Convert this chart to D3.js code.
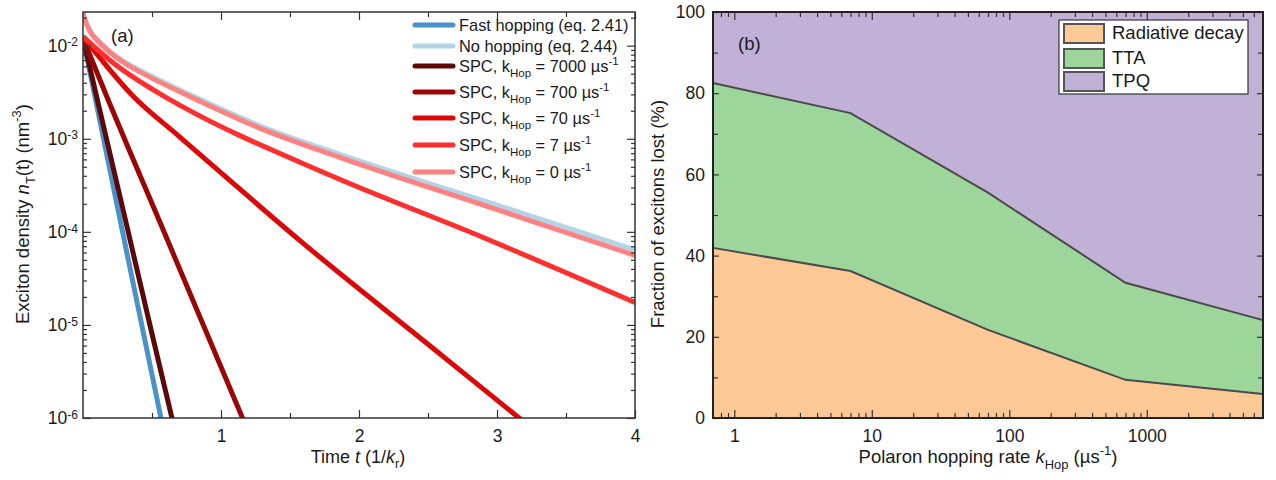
<!DOCTYPE html>
<html>
<head>
<meta charset="utf-8">
<script src="https://cdn.jsdelivr.net/npm/d3@7"></script>
<style>
  body { margin: 0; background: #fff; }
  svg { font-family: "Liberation Sans", Arial, sans-serif; }
  text { white-space: pre; fill: #1a1a1a; }
</style>
</head>
<body>
<div id="chart"></div>
<script>
// Panel (a): exciton density n_T(t) vs time
var tFast = [0, 0.3, 0.6];
var nFast = [1.2e-2, 8.0e-5, 5.6e-7];
var tNoHop = [0, 0.015, 0.05, 0.123, 0.22, 0.34, 0.46, 0.77, 1.28, 1.86, 2.95, 4];
var nNoHop = [2.24e-2, 1.9e-2, 1.46e-2, 1.09e-2, 8.1e-3, 6.2e-3, 5.0e-3, 3.0e-3, 1.38e-3, 6.8e-4, 2.05e-4, 6.4e-5];
var t7000 = [0, 0.3, 0.5, 0.7];
var n7000 = [1.2e-2, 1.5e-4, 8.0e-6, 4.5e-7];
var t700 = [0, 0.17, 0.6, 1.2];
var n700 = [1.2e-2, 2.9e-3, 9.0e-5, 7.0e-7];
var t70 = [0, 0.36, 0.7, 1.07, 1.57, 2.5, 3.16, 3.3];
var n70 = [1.25e-2, 2.9e-3, 1.05e-3, 3.5e-4, 8.1e-5, 6.2e-6, 1.0e-6, 6.8e-7];
var t7 = [0, 0.22, 0.58, 0.7, 1.8, 2.9, 4];
var n7 = [1.25e-2, 6.5e-3, 2.9e-3, 2.3e-3, 4.0e-4, 8.7e-5, 1.74e-5];
var t0 = [0, 0.015, 0.05, 0.123, 0.22, 0.34, 0.46, 0.77, 1.28, 1.86, 2.95, 4];
var n0 = [2.24e-2, 1.88e-2, 1.43e-2, 1.06e-2, 7.9e-3, 6.0e-3, 4.8e-3, 2.86e-3, 1.30e-3, 6.3e-4, 1.83e-4, 5.6e-5];

var spcRates = ["7000", "700", "70", "7", "0"];
var timeTicks = [1, 2, 3, 4];
var timeMinorTicks = [0.5, 1.5, 2.5, 3.5];
var densityTicks = [1e-2, 1e-3, 1e-4, 1e-5, 1e-6];

// Panel (b): fraction of excitons lost (%) vs hopping rate
var hopRates = [0.7, 7, 70, 700, 7000];
var radiative = [41.9, 36.2, 21.7, 9.4, 5.9];
var tta = [40.6, 38.9, 33.8, 23.9, 18.2];
var tpq = [17.5, 24.9, 44.5, 66.7, 75.9];
var lossNames = ["Radiative decay", "TTA", "TPQ"];
var rateTicks = [1, 10, 100, 1000];
var fractionTicks = [0, 20, 40, 60, 80, 100];
var fractionMinorTicks = [10, 30, 50, 70, 90];

var svg = d3.select("#chart")
  .append("svg")
  .attr("width", 1276)
  .attr("height", 480);

// writes text made of plain / italic / sub / sup pieces
function addParts(text, parts, size) {
  var shift = 0;
  parts.forEach(function (p) {
    var target = p.sub ? 0.3 * size : p.sup ? -0.42 * size : 0;
    text.append("tspan")
      .attr("dy", target - shift)
      .attr("font-size", (p.sub || p.sup) ? size * 0.7 : size)
      .attr("font-style", p.i ? "italic" : null)
      .text(p.t);
    shift = target;
  });
}

function styleAxis(g) {
  g.select(".domain").remove();
  g.selectAll(".tick line").attr("stroke", "#333").attr("stroke-width", 1.2);
  g.selectAll(".tick text").attr("font-size", 17.5).attr("fill", "#1a1a1a");
}

// ---------------- panel (a) ----------------
var ax = { left: 83, right: 635, top: 12, bottom: 418 };

var x1 = d3.scaleLinear().domain([0, 4]).range([ax.left, ax.right]);
var y1 = d3.scaleLog().domain([1e-6, 2.3e-2]).range([ax.bottom, ax.top]);

svg.append("clipPath").attr("id", "clipA")
  .append("rect")
  .attr("x", ax.left).attr("y", ax.top)
  .attr("width", ax.right - ax.left).attr("height", ax.bottom - ax.top);

var densitySeries = [
  { name: "Fast hopping (eq. 2.41)", t: tFast, n: nFast, color: "#4a92c9" },
  { name: "No hopping (eq. 2.44)", t: tNoHop, n: nNoHop, color: "#b4d4e6" },
  { rate: spcRates[0], t: t7000, n: n7000, color: "#5c0808" },
  { rate: spcRates[1], t: t700, n: n700, color: "#9a0505" },
  { rate: spcRates[2], t: t70, n: n70, color: "#dc0808" },
  { rate: spcRates[3], t: t7, n: n7, color: "#ff2f2f" },
  { rate: spcRates[4], t: t0, n: n0, color: "#ff8282" }
];

var line1 = d3.line()
  .x(function (d) { return x1(d[0]); })
  .y(function (d) { return y1(d[1]); })
  .curve(d3.curveMonotoneX);

svg.append("g")
  .attr("clip-path", "url(#clipA)")
  .selectAll("path")
  .data(densitySeries)
  .enter()
  .append("path")
  .attr("d", function (s) { return line1(d3.zip(s.t, s.n)); })
  .attr("fill", "none")
  .attr("stroke", function (s) { return s.color; })
  .attr("stroke-width", 5);

// x axes (ticks inside)
svg.append("g")
  .attr("transform", "translate(0," + ax.bottom + ")")
  .call(d3.axisBottom(x1).tickValues(timeTicks).tickSize(-8).tickPadding(12).tickFormat(d3.format("d")))
  .call(styleAxis);
svg.append("g")
  .attr("transform", "translate(0," + ax.bottom + ")")
  .call(d3.axisBottom(x1).tickValues(timeMinorTicks).tickSize(-5).tickFormat(""))
  .call(styleAxis);
svg.append("g")
  .attr("transform", "translate(0," + ax.top + ")")
  .call(d3.axisTop(x1).tickValues(timeTicks).tickSize(-8).tickFormat(""))
  .call(styleAxis);
svg.append("g")
  .attr("transform", "translate(0," + ax.top + ")")
  .call(d3.axisTop(x1).tickValues(timeMinorTicks).tickSize(-5).tickFormat(""))
  .call(styleAxis);

// y axes (log)
var minorDensity = y1.ticks().filter(function (d) {
  return Math.abs(Math.log10(d) - Math.round(Math.log10(d))) > 1e-6;
});
var yLeft = svg.append("g")
  .attr("transform", "translate(" + ax.left + ",0)")
  .call(d3.axisLeft(y1).tickValues(densityTicks).tickSize(-8).tickPadding(5).tickFormat(""))
  .call(styleAxis);
yLeft.selectAll(".tick text").each(function (d) {
  var el = d3.select(this);
  el.append("tspan").text("10");
  el.append("tspan").attr("dy", "-0.45em").attr("font-size", 12).text(Math.round(Math.log10(d)));
});
svg.append("g")
  .attr("transform", "translate(" + ax.left + ",0)")
  .call(d3.axisLeft(y1).tickValues(minorDensity).tickSize(-4).tickFormat(""))
  .call(styleAxis);
svg.append("g")
  .attr("transform", "translate(" + ax.right + ",0)")
  .call(d3.axisRight(y1).tickValues(densityTicks).tickSize(-8).tickFormat(""))
  .call(styleAxis);
svg.append("g")
  .attr("transform", "translate(" + ax.right + ",0)")
  .call(d3.axisRight(y1).tickValues(minorDensity).tickSize(-4).tickFormat(""))
  .call(styleAxis);

svg.append("rect")
  .attr("x", ax.left).attr("y", ax.top)
  .attr("width", ax.right - ax.left).attr("height", ax.bottom - ax.top)
  .attr("fill", "none").attr("stroke", "#333").attr("stroke-width", 1.5);

svg.append("text").attr("x", 111).attr("y", 42).attr("font-size", 18.5).text("(a)");

// legend (a)
var legA = svg.append("g");
var legRowY = [25, 46, 66, 92, 118, 145, 172];
densitySeries.forEach(function (s, i) {
  legA.append("line")
    .attr("x1", 415).attr("x2", 453)
    .attr("y1", legRowY[i]).attr("y2", legRowY[i])
    .attr("stroke", s.color).attr("stroke-width", 5).attr("stroke-linecap", "round");
  var txt = legA.append("text").attr("x", 459).attr("y", legRowY[i] + 6);
  if (s.name) {
    addParts(txt, [{ t: s.name }], 16.4);
  } else {
    addParts(txt, [{ t: "SPC, k" }, { t: "Hop", sub: true }, { t: " = " + s.rate + " \u00b5s" }, { t: "-1", sup: true }], 16.4);
  }
});

// axis titles (a)
var xtA = svg.append("text").attr("x", 358).attr("y", 463).attr("text-anchor", "middle");
addParts(xtA, [{ t: "Time " }, { t: "t", i: true }, { t: " (1/" }, { t: "k", i: true }, { t: "r", sub: true }, { t: ")" }], 18);
var ytA = svg.append("text").attr("transform", "translate(29,214) rotate(-90)").attr("text-anchor", "middle");
addParts(ytA, [{ t: "Exciton density " }, { t: "n", i: true }, { t: "T", sub: true }, { t: "(t) (nm" }, { t: "-3", sup: true }, { t: ")" }], 18.5);

// ---------------- panel (b) ----------------
var bx = { left: 713, right: 1263, top: 12, bottom: 418 };

var x2 = d3.scaleLog().domain([0.7, 7000]).range([bx.left, bx.right]);
var y2 = d3.scaleLinear().domain([0, 100]).range([bx.bottom, bx.top]);

var lossTable = hopRates.map(function (k, i) {
  return { k: k, rad: radiative[i], tta: tta[i], tpq: tpq[i] };
});
var stacked = d3.stack().keys(["rad", "tta", "tpq"])(lossTable);
var lossColors = ["#fcc896", "#9dd69b", "#c1b1d6"];

var area2 = d3.area()
  .x(function (d) { return x2(d.data.k); })
  .y0(function (d) { return y2(d[0]); })
  .y1(function (d) { return y2(d[1]); });

svg.append("g")
  .selectAll("path")
  .data(stacked)
  .enter()
  .append("path")
  .attr("d", area2)
  .attr("fill", function (d, i) { return lossColors[i]; });

var edge2 = d3.line()
  .x(function (d) { return x2(d.data.k); })
  .y(function (d) { return y2(d[1]); });

svg.append("g")
  .selectAll("path")
  .data(stacked.slice(0, 2))
  .enter()
  .append("path")
  .attr("d", edge2)
  .attr("fill", "none")
  .attr("stroke", "#4a4a4a")
  .attr("stroke-width", 2);

var minorRates = x2.ticks().filter(function (d) {
  return Math.abs(Math.log10(d) - Math.round(Math.log10(d))) > 1e-6 && d > 0.7 && d < 7000;
});

svg.append("g")
  .attr("transform", "translate(0," + bx.bottom + ")")
  .call(d3.axisBottom(x2).tickValues(rateTicks).tickSize(-8).tickPadding(12).tickFormat(d3.format("d")))
  .call(styleAxis);
svg.append("g")
  .attr("transform", "translate(0," + bx.bottom + ")")
  .call(d3.axisBottom(x2).tickValues(minorRates).tickSize(-5).tickFormat(""))
  .call(styleAxis);
svg.append("g")
  .attr("transform", "translate(0," + bx.top + ")")
  .call(d3.axisTop(x2).tickValues(rateTicks).tickSize(-8).tickFormat(""))
  .call(styleAxis);
svg.append("g")
  .attr("transform", "translate(0," + bx.top + ")")
  .call(d3.axisTop(x2).tickValues(minorRates).tickSize(-5).tickFormat(""))
  .call(styleAxis);

svg.append("g")
  .attr("transform", "translate(" + bx.left + ",0)")
  .call(d3.axisLeft(y2).tickValues(fractionTicks).tickSize(-6).tickPadding(8))
  .call(styleAxis);
svg.append("g")
  .attr("transform", "translate(" + bx.left + ",0)")
  .call(d3.axisLeft(y2).tickValues(fractionMinorTicks).tickSize(-5).tickFormat(""))
  .call(styleAxis);
svg.append("g")
  .attr("transform", "translate(" + bx.right + ",0)")
  .call(d3.axisRight(y2).tickValues(fractionTicks).tickSize(-6).tickFormat(""))
  .call(styleAxis);
svg.append("g")
  .attr("transform", "translate(" + bx.right + ",0)")
  .call(d3.axisRight(y2).tickValues(fractionMinorTicks).tickSize(-5).tickFormat(""))
  .call(styleAxis);

svg.append("rect")
  .attr("x", bx.left).attr("y", bx.top)
  .attr("width", bx.right - bx.left).attr("height", bx.bottom - bx.top)
  .attr("fill", "none").attr("stroke", "#222").attr("stroke-width", 2);

svg.append("text").attr("x", 738).attr("y", 50).attr("font-size", 18.5).text("(b)");

// legend (b)
var legB = svg.append("g");
legB.append("rect")
  .attr("x", 1059).attr("y", 20).attr("width", 189).attr("height", 74)
  .attr("fill", "#fff").attr("stroke", "#333").attr("stroke-width", 1.2);
var legBRowY = [23, 48, 71];
lossNames.forEach(function (name, i) {
  legB.append("rect")
    .attr("x", 1064).attr("y", legBRowY[i] + 1)
    .attr("width", 40).attr("height", 19)
    .attr("fill", lossColors[i]).attr("stroke", "#555").attr("stroke-width", 2);
  legB.append("text")
    .attr("x", 1112).attr("y", legBRowY[i] + 16)
    .attr("font-size", 18.5)
    .text(name);
});

// axis titles (b)
var xtB = svg.append("text").attr("x", 988).attr("y", 463).attr("text-anchor", "middle");
addParts(xtB, [{ t: "Polaron hopping rate " }, { t: "k", i: true }, { t: "Hop", sub: true }, { t: " (\u00b5s" }, { t: "-1", sup: true }, { t: ")" }], 18.5);
var ytB = svg.append("text").attr("transform", "translate(664,214) rotate(-90)").attr("text-anchor", "middle");
addParts(ytB, [{ t: "Fraction of excitons lost (%)" }], 18.5);
</script>
</body>
</html>
